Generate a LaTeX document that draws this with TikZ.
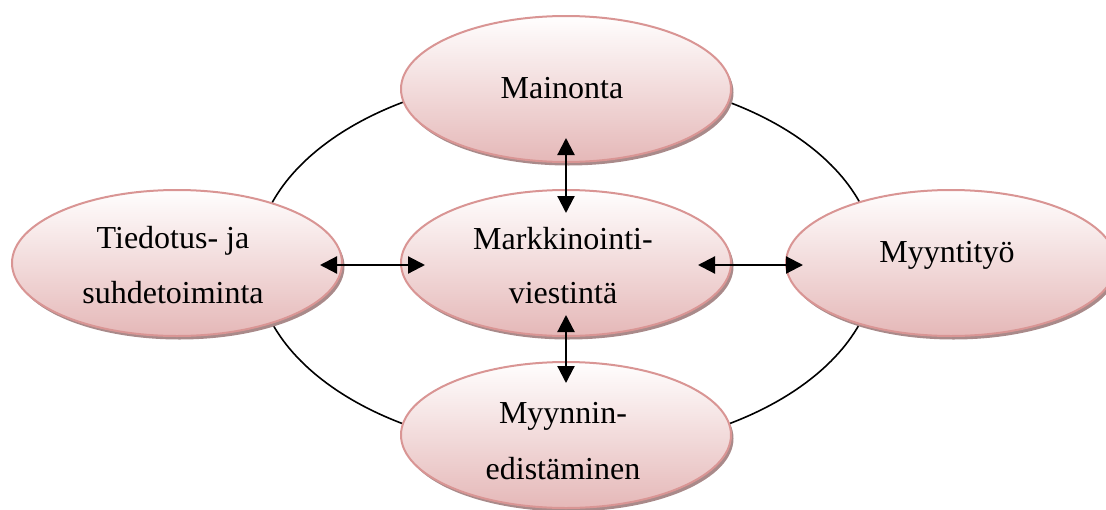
\documentclass[tikz,border=0pt]{standalone}
\usepackage{fontspec}
\setmainfont{Liberation Serif}
\usetikzlibrary{shapes.geometric,shadows,arrows.meta,calc}
\definecolor{bordercol}{HTML}{D99594}
\definecolor{fillbot}{HTML}{E5B8B8}
\definecolor{filltop}{HTML}{FFFEFE}
\definecolor{shadowcol}{HTML}{A98A8A}
\tikzset{
  bubble/.style={ellipse, draw=bordercol, line width=2pt, top color=filltop, bottom color=fillbot,
    minimum width=330pt, minimum height=146pt, inner sep=0pt,
    drop shadow={shadow xshift=2.5pt, shadow yshift=-3.5pt, fill=shadowcol, opacity=1}},
  lbl/.style={anchor=base, inner sep=0pt, font=\fontsize{32}{38}\selectfont},
  dbl/.style={{Triangle[length=17pt,width=17pt]}-{Triangle[length=17pt,width=17pt]}, line width=2.2pt},
  ring/.style={draw=black, line width=1.6pt}
}
\begin{document}
\begin{tikzpicture}[x=1pt,y=-1pt]
\useasboundingbox (0,0) rectangle (1106,509);
\clip (0,0) rectangle (1106,509);
\draw[ring] (566,263) ellipse [x radius=310, y radius=189];
\node[bubble] (mai) at (566,89) {};
\node[bubble] (tie) at (177,263) {};
\node[bubble] (mk) at (566,263) {};
\node[bubble] (myt) at (951,263) {};
\node[bubble] (myn) at (566,435) {};
\node[lbl] (tmai) at (562,98) {Mainonta};
\node[lbl] (ttie1) at (173,248) {Tiedotus- ja};
\node[lbl] (ttie2) at (173,303) {suhdetoiminta};
\node[lbl] (tmk1) at (563,249) {Markkinointi-};
\node[lbl] (tmk2) at (563,303) {viestintä};
\node[lbl] (tmyt) at (947,262) {Myyntityö};
\node[lbl] (tmyn1) at (563,423) {Myynnin-};
\node[lbl] (tmyn2) at (563,479) {edistäminen};
\draw[dbl] ($(mai.south)+(0,-25)$) -- ($(mk.north)+(0,24)$);
\draw[dbl] ($(mk.south)+(0,-22)$) -- ($(myn.north)+(0,22)$);
\draw[dbl] ($(tie.east)+(-23,2)$) -- ($(mk.west)+(25,2)$);
\draw[dbl] ($(mk.east)+(-34,2)$) -- ($(myt.west)+(18,2)$);
\end{tikzpicture}
\end{document}
